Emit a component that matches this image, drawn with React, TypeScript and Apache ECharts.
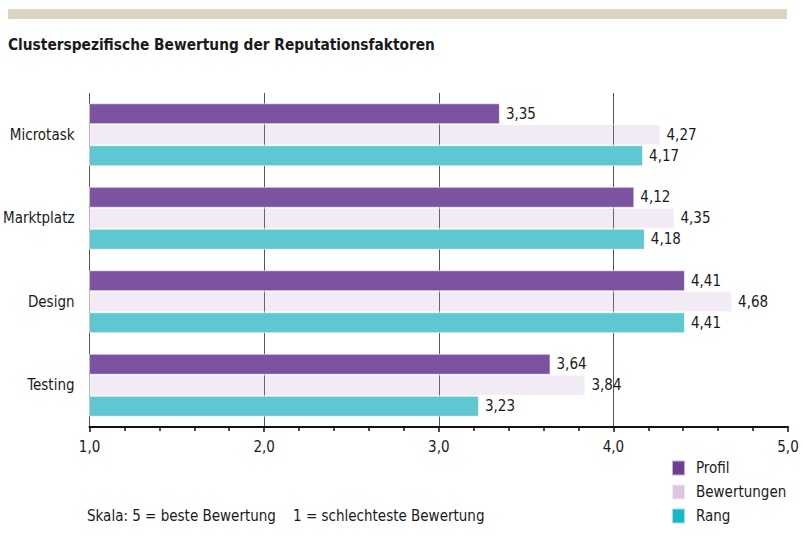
import React, { useEffect, useRef } from "react";
import * as echarts from "echarts";

const categories = ["Microtask", "Marktplatz", "Design", "Testing"];
const seriesNames = ["Profil", "Bewertungen", "Rang"];
const profil = [3.35, 4.12, 4.41, 3.64];
const bewertungen = [4.27, 4.35, 4.68, 3.84];
const rang = [4.17, 4.18, 4.41, 3.23];
const barColors = ["#7C53A0", "rgba(190,150,205,0.2)", "#5FC7D1"];
const legendColors = ["#6E3E91", "#DCC6E1", "#17B7C6"];

const FONT = "'Liberation Sans Narrow', 'DejaVu Sans Condensed', 'Roboto Condensed', sans-serif";

export default function App() {
  const ref = useRef<HTMLDivElement>(null);
  useEffect(() => {
    document.body.style.margin = "0";
    const chart = echarts.init(ref.current!, null, { renderer: "svg" });
    const values = [profil, bewertungen, rang];
    chart.setOption({
      animation: false,
      textStyle: { fontFamily: FONT },
      grid: { left: 88, right: 15, top: 93, bottom: 110, containLabel: false },
      legend: {
        orient: "vertical",
        left: 671,
        top: 459,
        padding: 0,
        itemWidth: 13,
        itemHeight: 15,
        itemGap: 6,
        icon: "rect",
        textStyle: { fontFamily: FONT, fontSize: 15, color: "#1a1a1a", lineHeight: 18, padding: [0, 0, 0, 6] },
        data: seriesNames.map((n, i) => ({ name: n, itemStyle: { color: legendColors[i] } })),
      },
      xAxis: {
        type: "value",
        min: 1,
        max: 5,
        interval: 1,
        axisLine: { show: true, lineStyle: { color: "#111", width: 2 } },
        axisTick: { show: true, length: 5, lineStyle: { color: "#111", width: 1.5 } },
        minorTick: { show: true, splitNumber: 5, length: 4, lineStyle: { color: "#111", width: 1.5 } },
        splitLine: { show: true, showMaxLine: false, lineStyle: { color: "#555", width: 1 } },
        axisLabel: {
          fontFamily: FONT,
          fontSize: 15,
          color: "#1a1a1a",
          margin: 12,
          formatter: (v: number) => v.toFixed(1).replace(".", ","),
        },
      },
      yAxis: {
        type: "category",
        data: categories,
        inverse: true,
        axisLine: { show: false },
        axisTick: { show: false },
        axisLabel: { fontFamily: FONT, fontSize: 15, color: "#1a1a1a", margin: 15 },
      },
      series: seriesNames.map((n, i) => ({
        name: n,
        type: "bar",
        data: values[i],
        barWidth: 21,
        barGap: "0%",
        itemStyle: { color: barColors[i], borderColor: "rgba(255,255,255,0.6)", borderWidth: 1 },
        label: {
          show: true,
          position: "right",
          distance: 6,
          fontFamily: FONT,
          fontSize: 15,
          color: "#1a1a1a",
          formatter: (p: any) => p.value.toFixed(2).replace(".", ","),
        },
        z: i === 1 ? 1 : 3,
      })),
      graphic: [
        { type: "rect", left: 8, top: 9, shape: { width: 779, height: 10 }, style: { fill: "#DCD5C0" } },
        {
          type: "text",
          left: 8,
          top: 37,
          style: { text: "Clusterspezifische Bewertung der Reputationsfaktoren", font: `bold 15.3px ${FONT}`, fill: "#1a1a1a" },
        },
        {
          type: "text",
          left: 87,
          top: 508,
          style: { text: "Skala: 5 = beste Bewertung    1 = schlechteste Bewertung", font: `15px ${FONT}`, fill: "#1a1a1a" },
        },
      ],
    });
    return () => chart.dispose();
  }, []);
  return <div ref={ref} style={{ width: 803, height: 537 }} />;
}
